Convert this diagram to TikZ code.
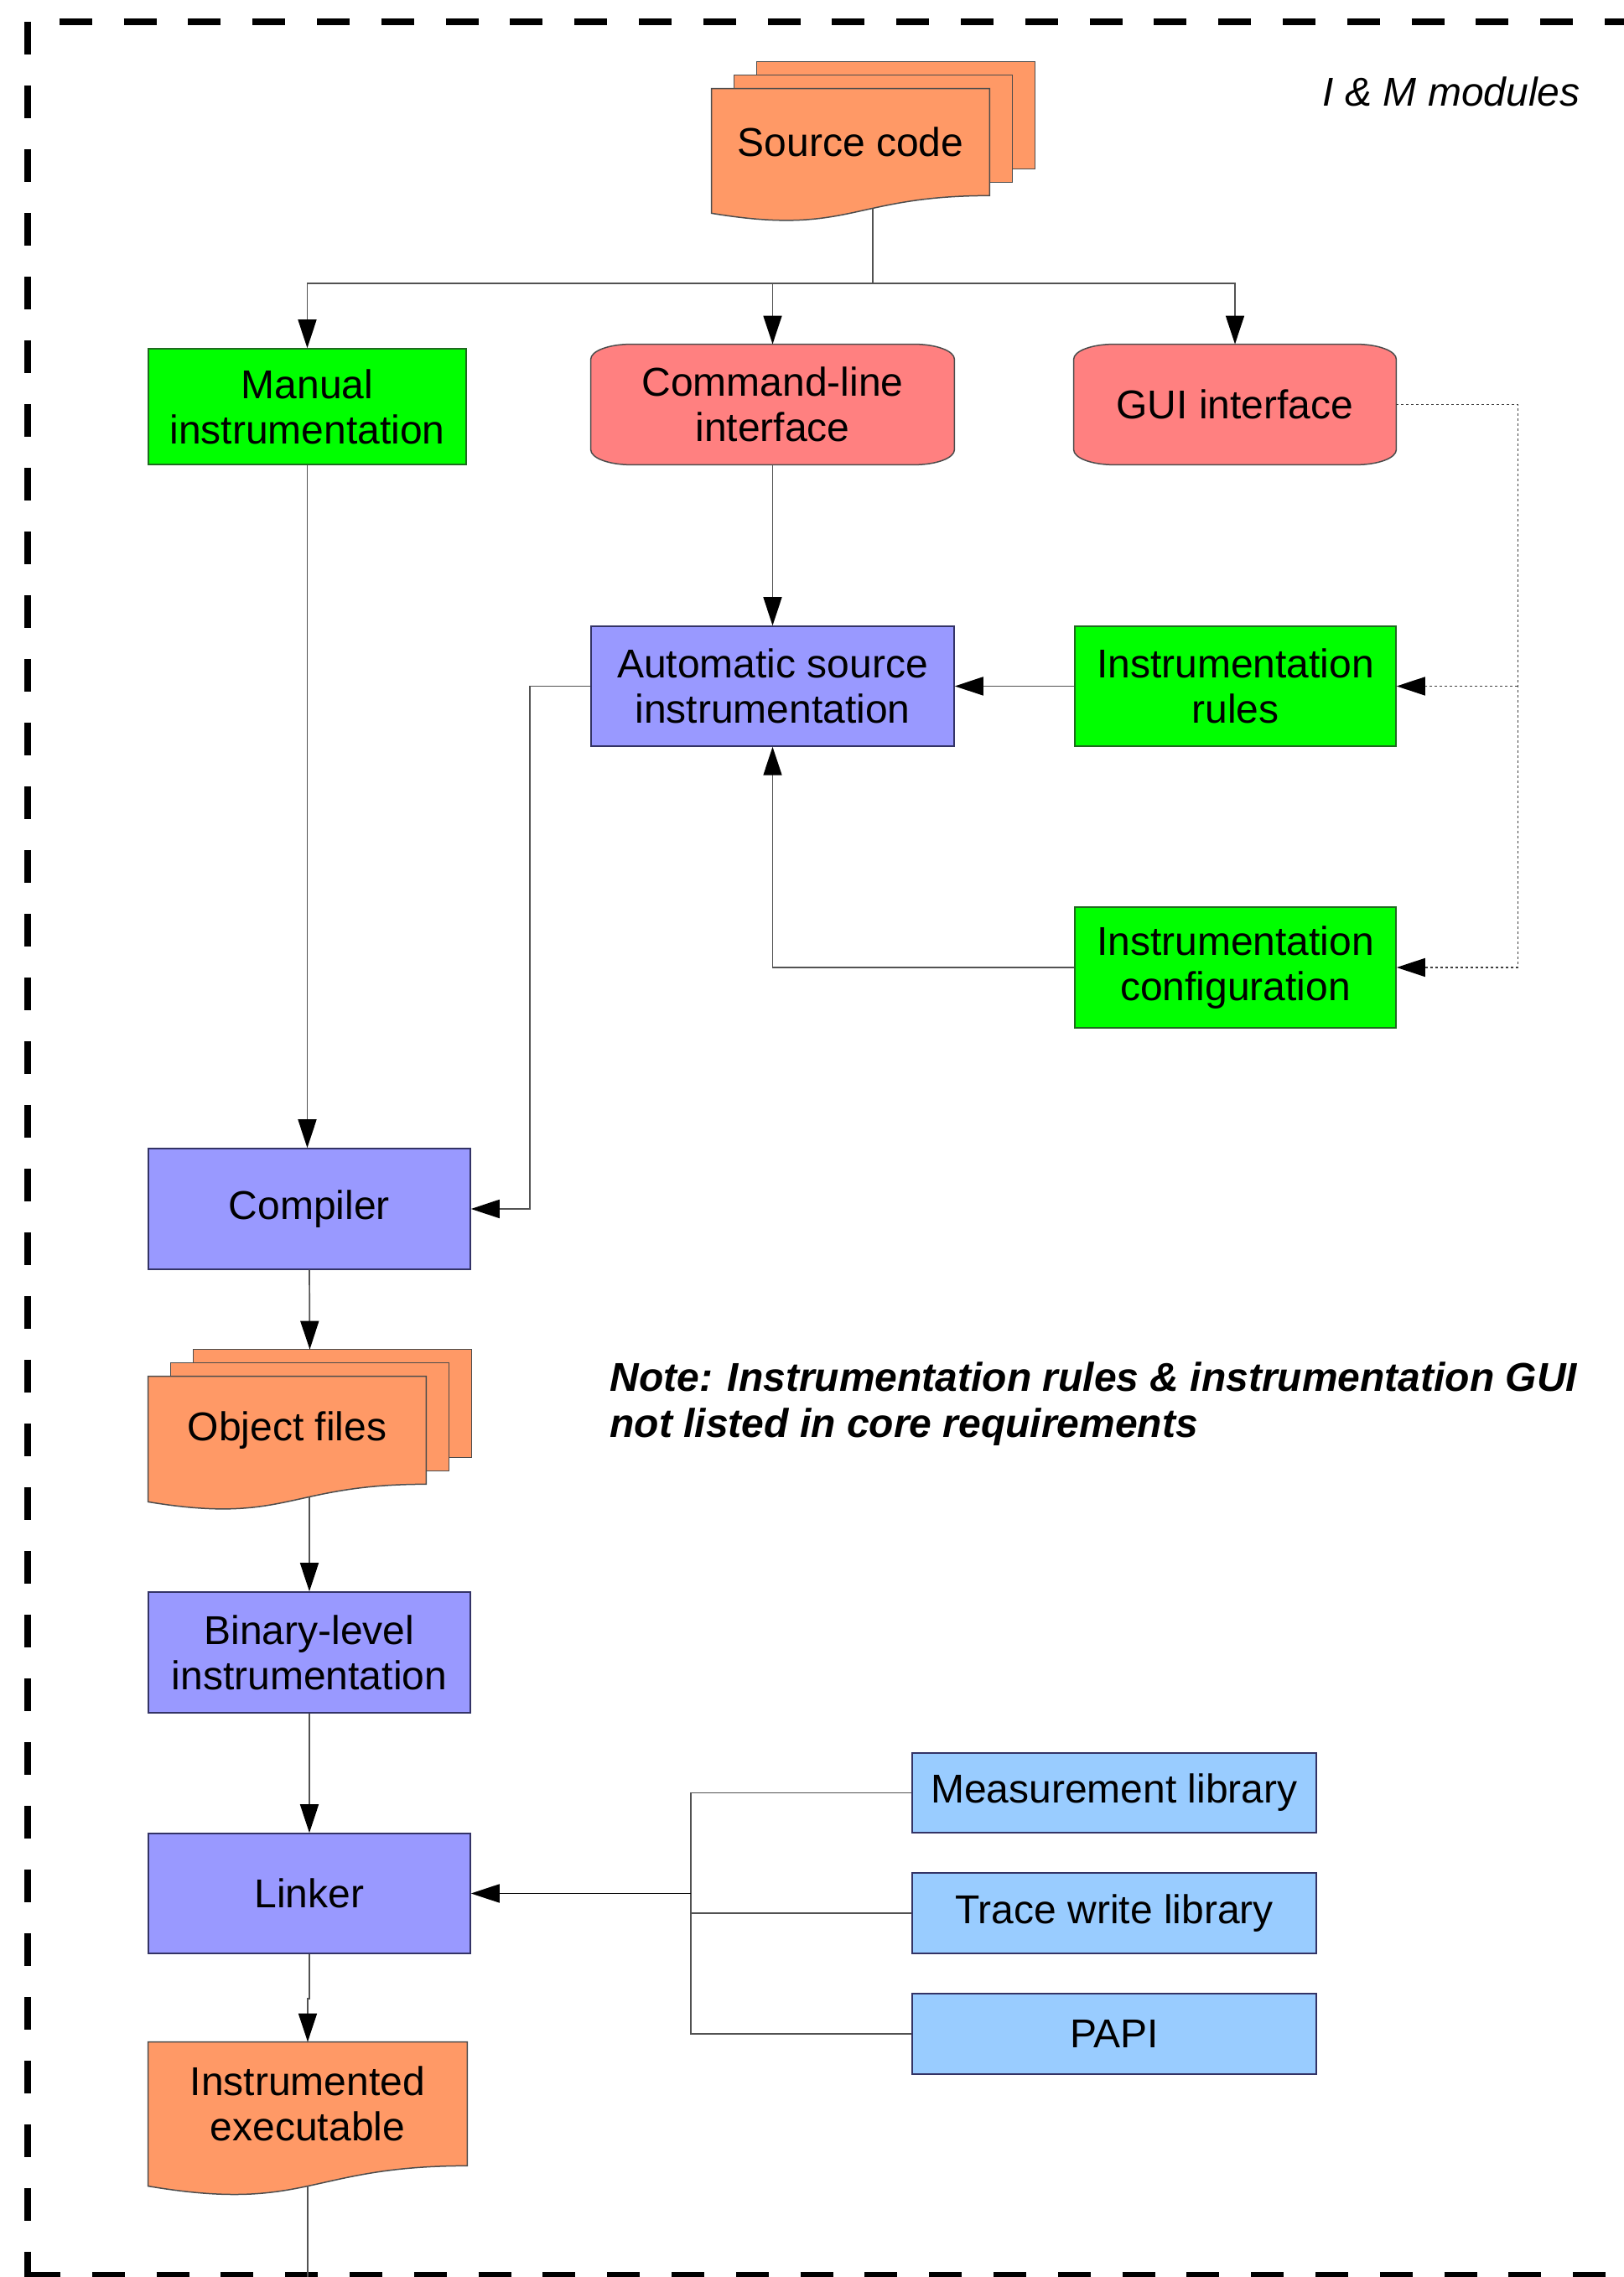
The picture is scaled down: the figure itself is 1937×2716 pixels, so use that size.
\documentclass[tikz,border=0pt]{standalone}
\usepackage{fontspec}
\setmainfont{Liberation Sans}
\usetikzlibrary{arrows.meta,backgrounds}

\definecolor{docorange}{HTML}{FF9966}
\definecolor{procblue}{HTML}{9999FF}
\definecolor{procedge}{HTML}{333366}
\definecolor{rulegreen}{HTML}{00FF00}
\definecolor{greenedge}{HTML}{1E6B1E}
\definecolor{uired}{HTML}{FF8080}
\definecolor{libblue}{HTML}{99CCFF}

% two pages behind a document node
\newcommand{\pagestack}[1]{%
  \path[docfill] ([shift={(27pt,16pt)}]#1.south west) rectangle ([shift={(27pt,16pt)}]#1.north east);
  \path[docfill] ([shift={(13.5pt,8pt)}]#1.south west) rectangle ([shift={(13.5pt,8pt)}]#1.north east);}
% document with wavy bottom: node, control drop, end drop
\newcommand{\docwave}[3]{%
  \path[docfill] (#1.north west) -- (#1.north east) -- (#1.south east)
    .. controls (#1.south) and ([yshift=-#2]#1.south) .. ([yshift=-#3]#1.south west) -- cycle;}
% box with oval corners
\newcommand{\ovalbox}[1]{%
  \path[termfill] ([xshift=24pt]#1.north west) -- ([xshift=-24pt]#1.north east)
    arc[start angle=90,end angle=0,x radius=24pt,y radius=9pt] -- ([yshift=9pt]#1.south east)
    arc[start angle=0,end angle=-90,x radius=24pt,y radius=9pt] -- ([xshift=24pt]#1.south west)
    arc[start angle=270,end angle=180,x radius=24pt,y radius=9pt] -- ([yshift=-9pt]#1.north west)
    arc[start angle=180,end angle=90,x radius=24pt,y radius=9pt] -- cycle;}

\begin{document}
\begin{tikzpicture}[x=0.5pt,y=0.5pt,
    every node/.style={font=\fontsize{24}{27}\selectfont, align=center, inner sep=0pt},
    proc/.style={draw=procedge, fill=procblue, line width=0.75pt, minimum width=192pt, minimum height=72pt},
    rulebox/.style={draw=greenedge, fill=rulegreen, line width=0.75pt, minimum width=191.5pt, minimum height=72pt},
    lib/.style={draw=procedge, fill=libblue, line width=0.75pt, minimum width=241pt, minimum height=48pt},
    term/.style={minimum height=71.5pt},
    docfill/.style={fill=docorange, draw=black!70, line width=0.75pt},
    termfill/.style={fill=uired, draw=black!70, line width=0.75pt},
    line/.style={draw=black!68, line width=0.85pt},
    arr/.style={line, -{Triangle[length=17pt,width=11pt,color=black]}},
    dotline/.style={draw=black!75, line width=0.75pt, dash pattern=on 1.5pt off 1.5pt},
    dotarr/.style={dotline, -{Triangle[length=17pt,width=11pt,color=black]}}]
    \useasboundingbox (0,0) rectangle (1937,2716);

    % frame
    \draw[line width=4pt, dash pattern=on 19.5pt off 18.5pt] (33,2690) -- (33,-20);
    \draw[line width=4pt, dash pattern=on 19.5pt off 18.9pt, dash phase=19.5pt] (33,2690) -- (1960,2690);
    \draw[line width=4pt, dash pattern=on 19.5pt off 18.9pt] (33,2) -- (1960,2);
    \node[anchor=east, font=\fontsize{24}{27}\selectfont\itshape] (title) at (1885,2607) {I \& M modules};

    \node[minimum width=165.5pt, minimum height=63.5pt] (src) at (1014.5,2546.5) {Source code};
    \node[rulebox, minimum width=189.5pt, minimum height=69pt] (man) at (366.5,2231) {Manual\\instrumentation};
    \node[term, minimum width=216.5pt] (cli) at (921.5,2233.5) {Command-line\\interface};
    \node[term, minimum width=192pt] (gui) at (1473,2233.5) {GUI interface};
    \node[proc, minimum width=216.5pt, minimum height=71.5pt] (auto) at (921.5,1897.5) {Automatic source\\instrumentation};
    \node[rulebox, minimum height=71.5pt] (rules) at (1473.5,1897.5) {Instrumentation\\rules};
    \node[rulebox] (conf) at (1473.5,1562) {Instrumentation\\configuration};
    \node[proc] (comp) at (369,1274) {Compiler};
    \node[minimum width=165.5pt, minimum height=64pt] (obj) at (342.5,1010) {Object files};
    \node[proc] (bin) at (369,745) {Binary-level\\instrumentation};
    \node[proc, minimum height=71.5pt] (link) at (369,457.5) {Linker};
    \node[minimum width=190pt, minimum height=73.5pt] (exe) at (367,206.5) {Instrumented\\executable};
    \node[lib, minimum height=47.5pt] (meas) at (1329,577.5) {Measurement library};
    \node[lib] (trace) at (1329,434) {Trace write library};
    \node[lib] (papi) at (1329,290) {PAPI};
    \node[anchor=west, align=left, font=\fontsize{24}{27.5}\selectfont\bfseries\itshape] (note) at (727,1041)
        {Note: Instrumentation rules \& instrumentation GUI\\not listed in core requirements};

    \begin{scope}[on background layer]
    \pagestack{src}
    \docwave{src}{24.3pt}{10.5pt}
    \pagestack{obj}
    \docwave{obj}{24.3pt}{10.5pt}
    \docwave{exe}{28.2pt}{12.1pt}
    \ovalbox{cli}
    \ovalbox{gui}
    \end{scope}

    \coordinate (bus) at (1041,2378);
    \draw[line] ([shift={(13.25pt,-7.7pt)}]src.south) -- (bus);
    \draw[arr] (bus) -| (man.north);
    \draw[arr] (bus) -| (cli.north);
    \draw[arr] (bus) -| (gui.north);
    \draw[arr] (cli.south) -- (auto.north);
    \draw[arr] (rules.west) -- (auto.east);
    \draw[arr] (conf.west) -| (auto.south);
    \draw[dotarr] (gui.east) -- ++(72.5pt,0) coordinate (gd) |- (conf.east);
    \draw[dotarr] (gd |- rules.east) -- (rules.east);
    \draw[arr] (auto.west) -- ++(-36pt,0) |- (comp.east);
    \draw[arr] (man.south) -- (man.south |- comp.north);
    \draw[arr] (comp.south) -- ([shift={(13.5pt,16pt)}]obj.north);
    \draw[arr] ([shift={(13.25pt,-7.7pt)}]obj.south) -- (bin.north);
    \draw[arr] (bin.south) -- (link.north);
    \draw[arr] (link.south) -- ++(0,-26.5pt) -| (exe.north);
    \coordinate (out) at (367,0);
    \draw[line] ([yshift=-12pt]exe.south) -- (out);
    \draw[line] (meas.west) -- ++(-131.5pt,0) coordinate (lb) -- (lb |- papi.west) -- (papi.west);
    \draw[line] (trace.west) -- (lb |- trace.west);
    \draw[arr, draw=black] (lb |- link.east) -- (link.east);
\end{tikzpicture}
\end{document}
